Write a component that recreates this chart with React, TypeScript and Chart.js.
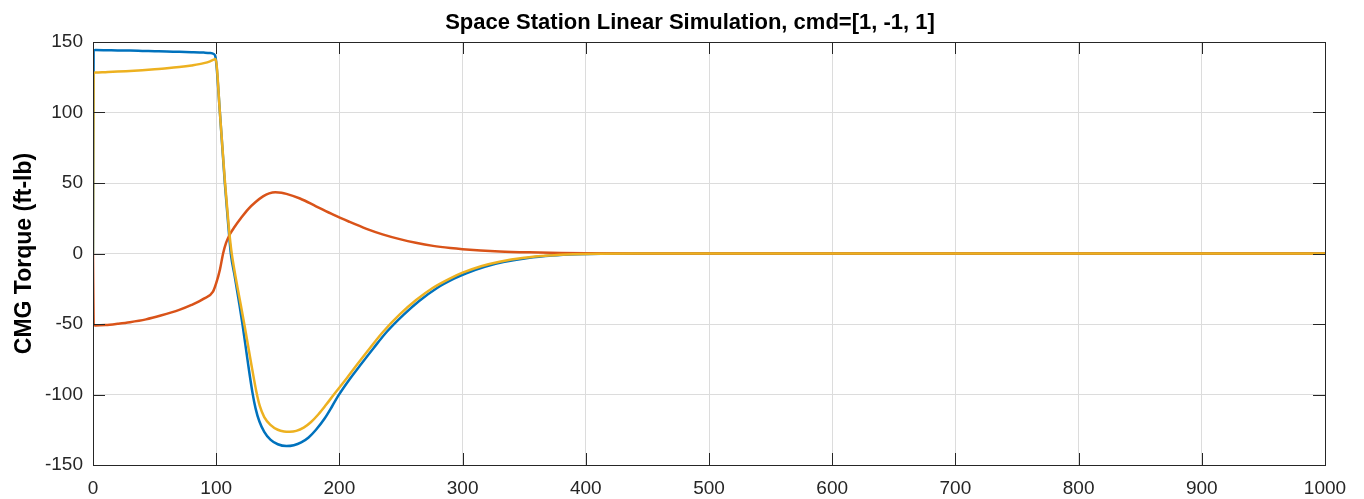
import React, { useEffect, useRef } from 'react';
import { Chart, registerables } from 'chart.js';

Chart.register(...registerables);

const chartTitle = 'Space Station Linear Simulation, cmd=[1, -1, 1]';
const yAxisTitle = 'CMG Torque (ft-lb)';

const xTickValues = [0, 100, 200, 300, 400, 500, 600, 700, 800, 900, 1000];
const yTickValues = [-150, -100, -50, 0, 50, 100, 150];

const blueTime = [0, 0.5, 2, 10, 20, 30, 40, 50, 60, 70, 80, 90, 95, 98, 99.5, 103, 107, 110, 112, 115, 119, 121.3, 125.5, 129.5, 132, 135, 139, 144, 150, 157, 163, 169, 175, 181, 188, 194, 199, 208, 218, 228, 238.5, 252, 265, 279, 293, 303, 318, 333, 353, 373, 393, 413, 450, 500, 600, 700, 800, 900, 1000];
const blueTorque = [0, 144, 144.3, 144.2, 144, 143.9, 143.7, 143.5, 143.3, 143, 142.8, 142.5, 142.2, 141.5, 139, 100, 50, 18, -1, -16, -37, -50, -76, -99, -110, -119, -126.5, -132, -135.3, -136.6, -136, -134, -130.5, -125, -117, -108.5, -101, -89.5, -78, -66.8, -55.5, -43.5, -33.5, -24.6, -17.9, -14, -9.4, -6.1, -3.2, -1.5, -0.6, -0.15, 0, 0, 0, 0, 0, 0, 0];

const orangeTime = [0, 0.5, 2, 10, 20, 30, 43, 55, 70, 80, 90, 97.4, 100, 103, 105.6, 108, 111, 115, 120, 126, 132, 138, 143, 148, 153, 157, 168, 181, 195, 208, 222, 235, 249, 262, 276, 290, 300, 330, 354, 380, 400, 450, 500, 600, 700, 800, 900, 1000];
const orangeTorque = [0, -50, -51, -50.7, -49.8, -48.7, -46.7, -44, -40, -36.5, -32, -27, -21, -11.5, 0, 7.5, 13.5, 19, 25, 31.5, 36.5, 40.5, 42.6, 43.4, 43.1, 42.3, 39, 33.5, 27.5, 22.5, 17.5, 13.6, 10.2, 7.6, 5.4, 3.9, 3.1, 1.5, 0.8, 0.35, 0.15, 0, 0, 0, 0, 0, 0, 0];

const yellowTime = [0, 0.5, 2, 10, 20, 30, 40, 50, 60, 70, 80, 90, 95, 98, 99.5, 103, 107, 110, 112, 115, 119, 123, 128, 132.6, 135.5, 139, 144, 150, 155, 159.7, 165, 171, 177, 183, 189, 196, 205, 215, 225, 235.5, 249, 262, 276, 290, 300, 315, 330, 350, 370, 390, 410, 450, 500, 600, 700, 800, 900, 1000];
const yellowTorque = [0, 128, 128.3, 128.6, 129, 129.5, 130, 130.6, 131.3, 132.2, 133.4, 135, 136.3, 137.5, 138, 100, 52, 21, 4, -13, -32, -51, -76, -98, -108.5, -116, -121.5, -125, -126.2, -126.4, -125.8, -123.5, -119.5, -114, -107.5, -99.5, -89.5, -78, -66.8, -55.5, -43.2, -33.2, -24.3, -17.6, -13.6, -9, -5.8, -3, -1.4, -0.5, -0.1, 0, 0, 0, 0, 0, 0, 0];

const FONT = '"Liberation Sans", Arial, Helvetica, sans-serif';

const toPoints = (xs: number[], ys: number[]) => xs.map((x, i) => ({ x, y: ys[i] }));

const boxPlugin = {
  id: 'matlabBox',
  afterDatasetsDraw(chart: any) {
    const { ctx, chartArea, scales } = chart;
    const { left, right, top, bottom } = chartArea;
    const x = scales.x;
    const y = scales.y;
    const tick = 12;
    ctx.save();
    ctx.strokeStyle = '#262626';
    ctx.lineWidth = 1;
    ctx.beginPath();
    xTickValues.forEach((v) => {
      const px = Math.round(x.getPixelForValue(v)) + 0.5;
      ctx.moveTo(px, bottom);
      ctx.lineTo(px, bottom - tick);
      ctx.moveTo(px, top);
      ctx.lineTo(px, top + tick);
    });
    yTickValues.forEach((v) => {
      const py = Math.round(y.getPixelForValue(v)) + 0.5;
      ctx.moveTo(left, py);
      ctx.lineTo(left + tick, py);
      ctx.moveTo(right, py);
      ctx.lineTo(right - tick, py);
    });
    ctx.stroke();
    ctx.strokeRect(Math.round(left) + 0.5, Math.round(top) + 0.5, Math.round(right) - Math.round(left), Math.round(bottom) - Math.round(top));
    ctx.restore();
  },
};

export default function App() {
  const canvasRef = useRef<HTMLCanvasElement | null>(null);

  useEffect(() => {
    document.body.style.margin = '0';
    const canvas = canvasRef.current;
    if (!canvas) return;
    const lineStyle = {
      borderWidth: 2.5,
      pointRadius: 0,
      cubicInterpolationMode: 'monotone' as const,
    };
    const chart = new Chart(canvas, {
      type: 'line',
      data: {
        datasets: [
          {
            label: 'Blue',
            data: toPoints(blueTime, blueTorque),
            borderColor: '#0072BD',
            backgroundColor: '#0072BD',
            order: 2,
            ...lineStyle,
          },
          {
            label: 'Orange',
            data: toPoints(orangeTime, orangeTorque),
            borderColor: '#D95319',
            backgroundColor: '#D95319',
            order: 1,
            ...lineStyle,
          },
          {
            label: 'Yellow',
            data: toPoints(yellowTime, yellowTorque),
            borderColor: '#EDB120',
            backgroundColor: '#EDB120',
            order: 0,
            ...lineStyle,
          },
        ],
      },
      options: {
        animation: false,
        responsive: true,
        maintainAspectRatio: false,
        layout: { padding: { left: 16, right: 0, top: 0, bottom: 0 } },
        plugins: {
          legend: { display: false },
          tooltip: { enabled: false },
          title: {
            display: true,
            text: chartTitle,
            color: '#000000',
            font: { family: FONT, size: 22, weight: 'bold' },
            padding: { top: 9.3, bottom: 6.3 },
          },
        },
        scales: {
          x: {
            type: 'linear',
            min: 0,
            max: 1000,
            afterBuildTicks: (s: any) => { s.ticks = xTickValues.map((v) => ({ value: v })); },
            afterFit: (s: any) => { s.height = 34; },
            grid: { color: '#dcdcdc', lineWidth: 1, drawTicks: false },
            border: { display: false },
            ticks: {
              color: '#262626',
              font: { family: FONT, size: 19 },
              padding: 12,
              maxRotation: 0,
              autoSkip: false,
              callback: (v: any) => String(v),
            },
          },
          y: {
            type: 'linear',
            min: -150,
            max: 150,
            afterBuildTicks: (s: any) => { s.ticks = yTickValues.map((v) => ({ value: v })); },
            afterFit: (s: any) => { s.width = 77; },
            grid: { color: '#dcdcdc', lineWidth: 1, drawTicks: false },
            border: { display: false },
            ticks: {
              color: '#262626',
              font: { family: FONT, size: 19 },
              padding: 10,
              autoSkip: false,
              callback: (v: any) => String(v),
            },
            title: {
              display: true,
              text: yAxisTitle,
              color: '#000000',
              font: { family: FONT, size: 23, weight: 'bold' },
              padding: { top: -5, bottom: 0 },
            },
          },
          y2: {
            type: 'linear',
            position: 'right',
            display: true,
            afterFit: (s: any) => { s.width = 39; },
            grid: { display: false, drawOnChartArea: false, drawTicks: false },
            border: { display: false },
            ticks: { display: false },
          },
        },
      },
      plugins: [boxPlugin],
    });
    return () => chart.destroy();
  }, []);

  return (
    <div style={{ position: 'relative', width: '1364px', height: '499px' }}>
      <canvas ref={canvasRef} />
    </div>
  );
}
